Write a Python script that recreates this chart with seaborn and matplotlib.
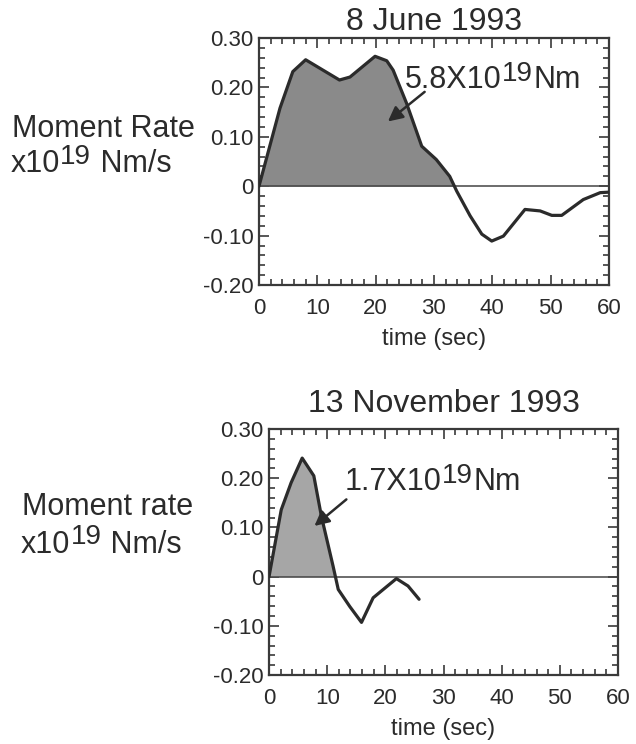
import numpy as np
import matplotlib
matplotlib.use('Agg')
import matplotlib.pyplot as plt
import matplotlib.transforms as mtransforms
import seaborn as sns
from matplotlib.ticker import MultipleLocator, FixedLocator, FixedFormatter

sns.set_style('ticks')
plt.rcParams['font.family'] = ['Liberation Sans', 'DejaVu Sans']

# 数据：8 June 1993
june_t = [0, 3.6, 5.8, 8.0, 13.8, 15.6, 19.9, 21.9, 23.0, 25.3, 27.9, 30.4, 32.7,
          33.9, 36.2, 38.2, 39.9, 41.9, 45.6, 48.2, 50.2, 51.9, 55.6, 58.5, 60.0]
june_rate = [0, 0.158, 0.232, 0.256, 0.215, 0.221, 0.263, 0.254, 0.235, 0.168, 0.081,
             0.054, 0.020, -0.010, -0.060, -0.097, -0.111, -0.101, -0.047, -0.050,
             -0.059, -0.059, -0.027, -0.013, -0.012]

# 数据：13 November 1993
nov_t = [0, 2.1, 3.8, 5.7, 7.7, 9.0, 11.0, 11.9, 13.9, 15.9, 17.9, 21.9, 23.9, 25.8]
nov_rate = [0, 0.136, 0.191, 0.241, 0.205, 0.123, 0.022, -0.026, -0.061, -0.093,
            -0.043, -0.004, -0.019, -0.046]

ytick_vals = [-0.2, -0.1, 0.0, 0.1, 0.2, 0.3]
ytick_labels = ['-0.20', '-0.10', '0', '0.10', '0.20', '0.30']
xtick_vals = [0, 10, 20, 30, 40, 50, 60]

INK = '#2b2b2b'

fig = plt.figure(figsize=(6.36, 7.44), dpi=100)
ax1 = fig.add_axes([0.4072, 0.6169, 0.5503, 0.3320])
ax2 = fig.add_axes([0.4230, 0.0927, 0.5487, 0.3306])
renderer = fig.canvas.get_renderer()


def sup_text(owner, x, y, base, sup, tail, size, sup_size, rise=5, transform=None):
    """写 base + 上标 sup + tail，上标用接近正文的字号"""
    kw = dict(color=INK, ha='left', va='baseline')
    if transform is not None:
        kw['transform'] = transform
    t1 = owner.text(x, y, base, fontsize=size, **kw)
    w1 = t1.get_window_extent(renderer).width * 72.0 / fig.dpi
    tr2 = mtransforms.offset_copy(t1.get_transform(), fig=fig, x=w1 + 0.5, y=rise, units='points')
    t2 = owner.text(x, y, sup, fontsize=sup_size, color=INK, ha='left', va='baseline', transform=tr2)
    w2 = t2.get_window_extent(renderer).width * 72.0 / fig.dpi
    tr3 = mtransforms.offset_copy(t1.get_transform(), fig=fig, x=w1 + w2 + 1.0, y=0, units='points')
    owner.text(x, y, tail, fontsize=size, color=INK, ha='left', va='baseline', transform=tr3)


def draw_panel(ax, t, rate, fill_color, title, title_pad, moment, txt_pos, arrow_tail, arrow_head):
    t = np.asarray(t)
    rate = np.asarray(rate)
    ax.fill_between(t, rate, 0, where=rate >= 0, interpolate=True,
                    color=fill_color, lw=0, zorder=1)
    ax.axhline(0, color='#444444', lw=1.1, zorder=2)
    sns.lineplot(x=t, y=rate, ax=ax, color=INK, lw=2.3, zorder=3)

    ax.set_xlim(0, 60)
    ax.set_ylim(-0.2, 0.3)
    ax.xaxis.set_major_locator(FixedLocator(xtick_vals))
    ax.xaxis.set_minor_locator(MultipleLocator(2))
    ax.yaxis.set_major_locator(FixedLocator(ytick_vals))
    ax.yaxis.set_major_formatter(FixedFormatter(ytick_labels))
    ax.yaxis.set_minor_locator(MultipleLocator(0.02))
    ax.tick_params(which='both', direction='in', top=True, right=True,
                   color='#3a3a3a', width=1.2, labelsize=16, labelcolor=INK)
    ax.tick_params(which='major', length=7)
    ax.tick_params(which='minor', length=4)
    ax.tick_params(axis='x', pad=9)
    ax.tick_params(axis='y', pad=4)
    for sp in ax.spines.values():
        sp.set_color('#3a3a3a')
        sp.set_linewidth(1.6)

    ax.set_title(title, fontsize=23, color=INK, pad=title_pad)
    ax.set_xlabel('time (sec)', fontsize=17, color=INK, labelpad=7)
    ax.set_ylabel('')

    sup_text(ax, txt_pos[0], txt_pos[1], moment + 'X10', '19', 'Nm', 22, 20, rise=5)
    ax.annotate('', xy=arrow_head, xytext=arrow_tail,
                arrowprops=dict(arrowstyle='-|>', lw=1.8, color=INK,
                                mutation_scale=22, shrinkA=0, shrinkB=0))


draw_panel(ax1, june_t, june_rate, '#8a8a8a', '8 June 1993', 6,
           '5.8', (25.0, 0.198), (28.4, 0.191), (22.1, 0.131))
draw_panel(ax2, nov_t, nov_rate, '#a6a6a6', '13 November 1993', 12,
           '1.7', (13.0, 0.177), (13.3, 0.157), (7.8, 0.103))

# 纵轴标题（放在图左侧）
fig.text(0.019, 0.816, 'Moment Rate', fontsize=22, color=INK, va='baseline')
sup_text(fig, 0.016, 0.769, 'x10', '19', ' Nm/s', 22, 20, rise=6, transform=fig.transFigure)
fig.text(0.035, 0.308, 'Moment rate', fontsize=22, color=INK, va='baseline')
sup_text(fig, 0.032, 0.257, 'x10', '19', ' Nm/s', 22, 20, rise=6, transform=fig.transFigure)

fig.savefig('out.png', dpi=100)
plt.close(fig)
